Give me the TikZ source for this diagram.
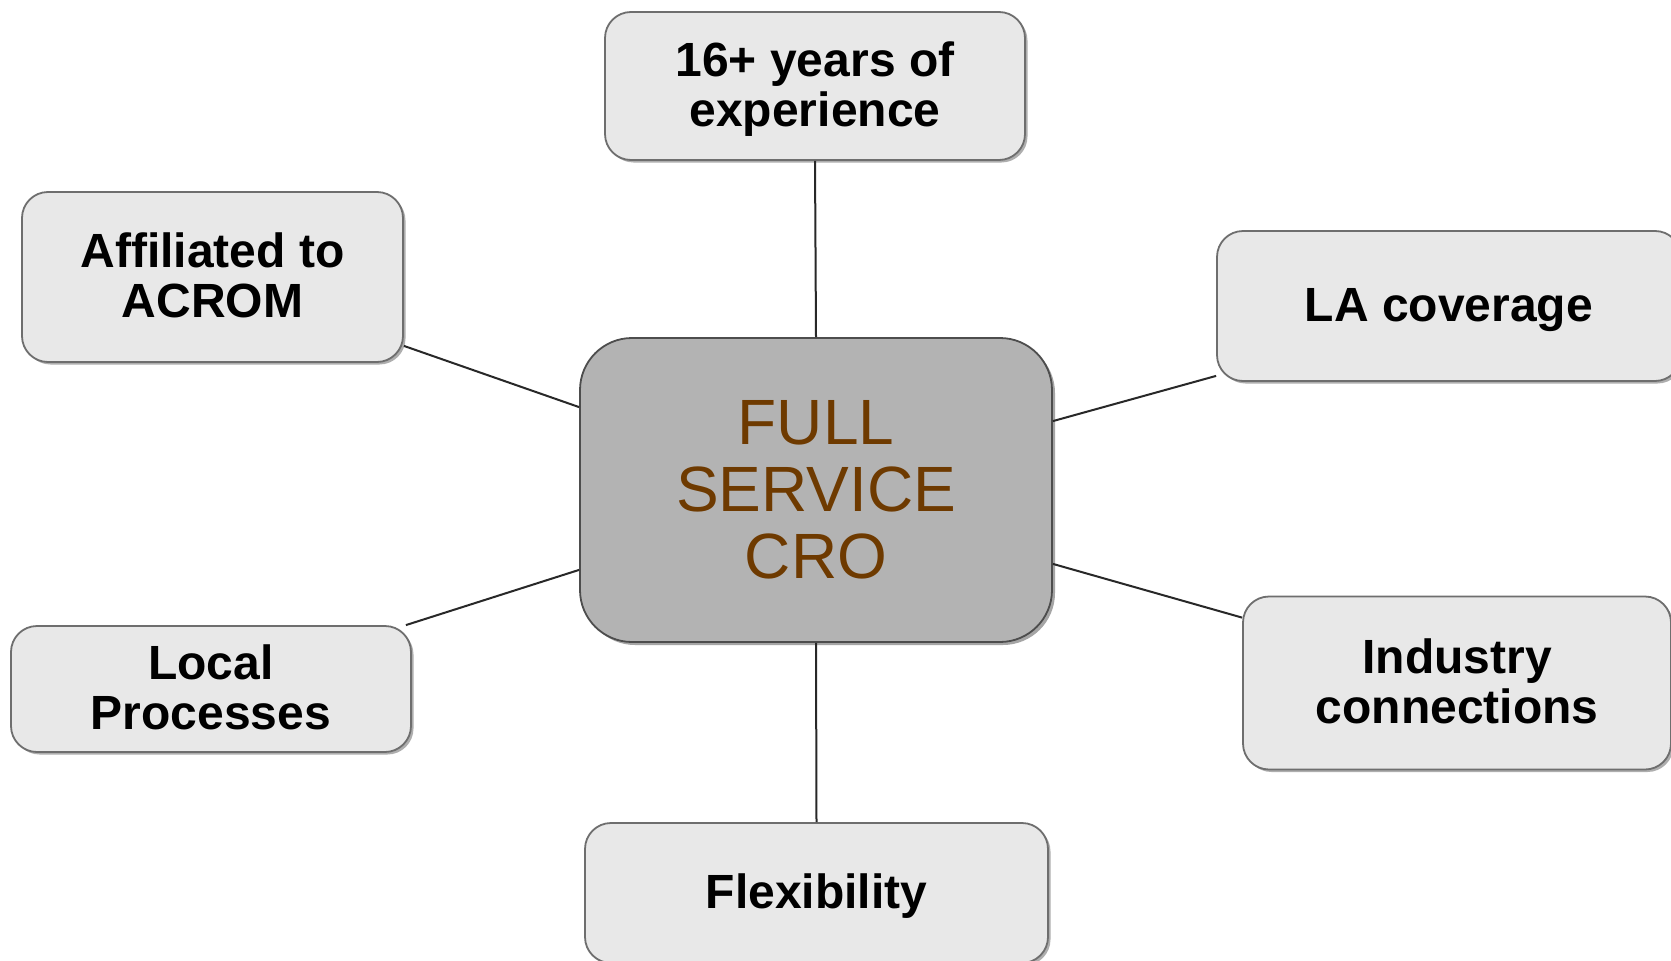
\documentclass[tikz,border=0pt]{standalone}
\usepackage{fontspec}
\setmainfont{Liberation Sans}
\usetikzlibrary{shadows}
\definecolor{outerfill}{RGB}{232,232,232}
\definecolor{centerfill}{RGB}{179,179,179}
\definecolor{edgegray}{RGB}{110,110,110}
\definecolor{brownText}{RGB}{110,58,0}
\definecolor{linkgray}{RGB}{40,40,40}
\newcommand{\lowertext}[1]{\raisebox{0pt}[\dimexpr\height+11pt\relax]{\begin{tabular}{@{}c@{}}#1\end{tabular}}}
\tikzset{
  outerbox/.style={draw=edgegray, line width=1.8pt, fill=outerfill, rounded corners=26pt,
    align=center, font=\fontsize{48}{50}\selectfont\bfseries, inner sep=0pt,
    drop shadow={shadow xshift=2.5pt, shadow yshift=-2.5pt, opacity=0.45, fill=black!70}},
  centerbox/.style={draw=edgegray!70!black, line width=1.8pt, fill=centerfill, rounded corners=52pt,
    align=center, font=\fontsize{64}{67}\selectfont, text=brownText, inner sep=0pt,
    drop shadow={shadow xshift=3pt, shadow yshift=-3pt, opacity=0.5, fill=black!70}},
  link/.style={draw=linkgray, line width=2pt}
}
\begin{document}
\begin{tikzpicture}[x=1pt, y=-1pt]
\useasboundingbox (0,0) rectangle (1671,961);
\fill[white] (0,0) rectangle (1671,961);
\node[centerbox, minimum width=472pt, minimum height=304pt] (c) at (816,490) {FULL\\SERVICE\\CRO};
\node[outerbox, minimum width=420pt, minimum height=148pt] (top) at (815,86) {\lowertext{16+ years of\\experience}};
\node[outerbox, minimum width=381pt, minimum height=170pt] (aff) at (212.5,277) {\lowertext{Affiliated to\\ACROM}};
\node[outerbox, minimum width=464pt, minimum height=150pt] (la) at (1449,306) {\lowertext{LA coverage}};
\node[outerbox, minimum width=428pt, minimum height=173pt] (ind) at (1457,683) {\lowertext{Industry\\connections}};
\node[outerbox, minimum width=400pt, minimum height=126pt] (loc) at (211,689) {\lowertext{Local\\Processes}};
\node[outerbox, minimum width=463pt, minimum height=140pt] (flex) at (816.5,893) {\lowertext{Flexibility}};
\draw[link] (top.south) -- (c.north);
\draw[link] (c.south) -- (flex.north);
\draw[link] ([yshift=17pt]aff.south east) -- ([yshift=-70pt]c.north west);
\draw[link] ([xshift=-6pt]loc.north east) -- ([yshift=73pt]c.south west);
\draw[link] ([yshift=-84pt]c.north east) -- ([yshift=6pt]la.south west);
\draw[link] ([yshift=79pt]c.south east) -- ([yshift=-22pt]ind.north west);
\end{tikzpicture}
\end{document}
